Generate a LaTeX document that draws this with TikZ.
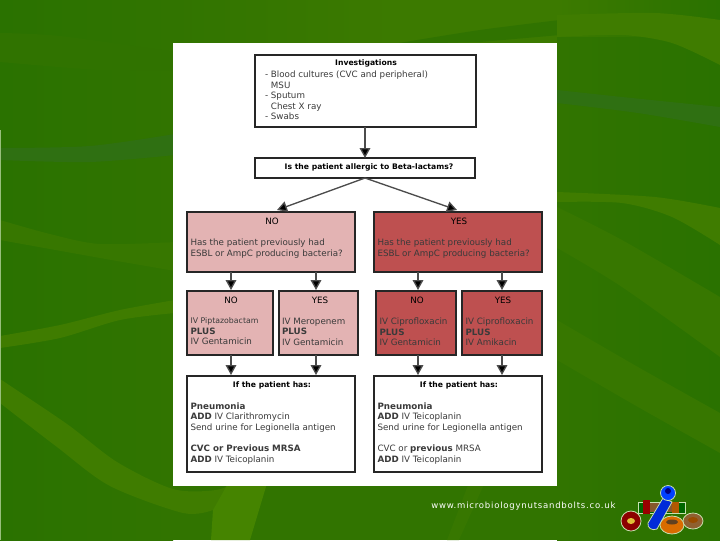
\documentclass[tikz,border=0pt]{standalone}
\usepackage{fontspec}
\setmainfont{DejaVu Sans}
\newfontfamily\urlfont[LetterSpace=9]{DejaVu Sans}
\usetikzlibrary{arrows.meta}
\definecolor{bgedge}{HTML}{2A7200}
\definecolor{bgmid}{HTML}{317400}
\definecolor{bandA}{HTML}{3F7C00}
\definecolor{bandB}{HTML}{377700}
\definecolor{bandC}{HTML}{307300}
\definecolor{bandF}{HTML}{2F7012}
\definecolor{bandV}{HTML}{458400}
\definecolor{topband}{HTML}{3C7A00}
\definecolor{pinkbox}{HTML}{E3B3B3}
\definecolor{redbox}{HTML}{BE5050}
\definecolor{softtext}{HTML}{3A3A3A}
\definecolor{halo}{HTML}{C8E0B0}
\tikzset{
  box/.style={draw=black!85,line width=0.9pt,inner sep=0pt,outer sep=0pt},
  arrowline/.style={draw=black!70,line width=1pt,-{Triangle[length=7.5pt,width=8pt,fill=black]}},
  body/.style={inner sep=0pt,outer sep=0pt,align=left,anchor=north west,text=softtext,font=\fontsize{6.55}{7.85}\selectfont},
  head/.style={inner sep=0pt,outer sep=0pt,align=center,anchor=center,text=black,font=\fontsize{6.55}{7.85}\selectfont},
  boldhead/.style={head,font=\fontsize{5.75}{7}\selectfont\bfseries},
  logopart/.style={draw=halo,line width=0.6pt}
}
\newcommand{\rbox}[6]{%
  \pgfmathsetmacro{\rw}{(#4-#2)*0.75}\pgfmathsetmacro{\rh}{(#5-#3)*0.75}%
  \node[box,#6,minimum width=\rw pt,minimum height=\rh pt] (#1) at ({(#2+#4)/2},{(#3+#5)/2}) {};}
\begin{document}
\begin{tikzpicture}[x=0.75pt,y=-0.75pt]
\useasboundingbox (0,0) rectangle (720,540);
\fill[bgmid] (0,0) rectangle (720,540);
\fill[left color=bgedge,right color=bgmid] (0,0) rectangle (173,540);
\fill[left color=bgmid,right color=bgedge] (557,0) rectangle (720,540);
% background bands
\fill[left color=bgmid,right color=topband] (173,0) rectangle (400,44);
\fill[topband] (400,0) rectangle (557,44);
\fill[left color=topband,right color=bgedge] (557,0) rectangle (720,36);
\fill[bandC] plot[smooth] coordinates {(393,44) (480,30) (560,20)} -- (560,35) -- (480,42) -- cycle;
\fill[bandC] plot[smooth] coordinates {(0,33) (60,36) (175,52)} -- plot[smooth] coordinates {(175,70) (100,70) (0,62)} -- cycle;
\fill[bandF] plot[smooth] coordinates {(0,148) (90,146) (175,134)} -- plot[smooth] coordinates {(175,155) (90,162) (0,160)} -- cycle;
\fill[bandB] plot[smooth] coordinates {(0,220) (50,234) (100,244) (175,242)} -- plot[smooth] coordinates {(175,271) (100,258) (0,240)} -- cycle;
\fill[bandA] plot[smooth] coordinates {(0,336) (60,325) (120,310) (175,300)} -- plot[smooth] coordinates {(175,313) (120,320) (60,338) (0,348)} -- cycle;
\fill[bandA] plot[smooth] coordinates {(0,379) (67,424) (117,462) (173,489) (216,490) (240,480)} -- (240,500) -- plot[smooth] coordinates {(213,510) (183,513) (110,486) (57,447) (0,403)} -- cycle;
\fill[bandV] (230,480) -- (268,480) -- (250,540) -- (211,540) -- (213,510) -- cycle;
\fill[bandB] (470,480) -- (486,480) -- (459,540) -- (447,540) -- cycle;
\fill[bandA] plot[smooth] coordinates {(557,15) (655,13) (720,20)} -- plot[smooth] coordinates {(720,65) (672,43) (622,35) (557,37)} -- cycle;
\fill[bandF] plot[smooth] coordinates {(557,90) (622,97) (720,107)} -- plot[smooth] coordinates {(720,127) (638,113) (557,103)} -- cycle;
\fill[bandA] plot[smooth] coordinates {(557,192) (655,197) (720,208)} -- plot[smooth] coordinates {(720,245) (672,217) (622,203) (557,202)} -- cycle;
\fill[bandB] plot[smooth] coordinates {(557,207) (622,240) (720,297)} -- plot[smooth] coordinates {(720,357) (622,287) (557,248)} -- cycle;
\fill[bandB] plot[smooth] coordinates {(557,320) (638,367) (720,413)} -- plot[smooth] coordinates {(720,453) (638,407) (557,360)} -- cycle;
\fill[halo!70!bgedge] (0,130) rectangle (1,540);
% sheet
\node[fill=white,minimum width=288pt,minimum height=332.25pt,inner sep=0pt,outer sep=0pt] (sheet) at (365,264.5) {};
% boxes
\rbox{inv}{255}{55}{476}{127}{fill=white}
\rbox{allergic}{255}{158}{475}{178}{fill=white}
\rbox{no}{187}{212}{355}{272}{fill=pinkbox}
\rbox{yes}{374}{212}{542}{272}{fill=redbox}
\rbox{noa}{187}{291}{273}{355}{fill=pinkbox}
\rbox{nob}{279}{291}{358}{355}{fill=pinkbox}
\rbox{yesa}{376}{291}{456}{355}{fill=redbox}
\rbox{yesb}{462}{291}{542}{355}{fill=redbox}
\rbox{resa}{187}{376}{355}{472}{fill=white}
\rbox{resb}{374}{376}{542}{472}{fill=white}
% anchors for connectors
\coordinate (noin) at (277,210);
\coordinate (yesin) at (457,210);
\coordinate (a1) at (231,290);
\coordinate (a2) at (316,290);
\coordinate (a3) at (418,290);
\coordinate (a4) at (502,290);
\coordinate (b1) at (231,375);
\coordinate (b2) at (316,375);
\coordinate (b3) at (418,375);
\coordinate (b4) at (502,375);
% connectors
\draw[arrowline] (inv.south -| allergic.north) -- (allergic.north);
\draw[arrowline] (allergic.south) -- (noin);
\draw[arrowline] (allergic.south) -- (yesin);
\draw[arrowline] (no.south -| a1) -- (a1);
\draw[arrowline] (no.south -| a2) -- (a2);
\draw[arrowline] (yes.south -| a3) -- (a3);
\draw[arrowline] (yes.south -| a4) -- (a4);
\draw[arrowline] (noa.south -| b1) -- (b1);
\draw[arrowline] (nob.south -| b2) -- (b2);
\draw[arrowline] (yesa.south -| b3) -- (b3);
\draw[arrowline] (yesb.south -| b4) -- (b4);
% texts
\node[boldhead] (t1) at (366,63.5) {Investigations};
\node[body] (t2) at (265,71) {- Blood cultures (CVC and peripheral)\\
\phantom{- }MSU\\- Sputum\\\phantom{- }Chest X ray\\- Swabs};
\node[boldhead] (t3) at (369,167) {Is the patient allergic to Beta-lactams?};
\node[head] (t4) at (272,221) {NO};
\node[head] (t5) at (459,221) {YES};
\node[body] (t6) at (190.5,239) {Has the patient previously had\\ESBL or AmpC producing bacteria?};
\node[body] (t7) at (377.5,239) {Has the patient previously had\\ESBL or AmpC producing bacteria?};
\node[head] (t8) at (231,300.5) {NO};
\node[head] (t9) at (320,300.5) {YES};
\node[head] (t10) at (417,300.5) {NO};
\node[head] (t11) at (503,300.5) {YES};
\node[body] (t12) at (190.5,318) {{\fontsize{5.85}{7.85}\selectfont IV Piptazobactam}\\\textbf{PLUS}\\IV Gentamicin};
\node[body] (t13) at (282,318) {IV Meropenem\\\textbf{PLUS}\\IV Gentamicin};
\node[body] (t14) at (379.5,318) {IV Ciprofloxacin\\\textbf{PLUS}\\IV Gentamicin};
\node[body] (t15) at (465.5,318) {IV Ciprofloxacin\\\textbf{PLUS}\\IV Amikacin};
\node[boldhead] (t16) at (272,385) {If the patient has:};
\node[boldhead] (t17) at (459,385) {If the patient has:};
\node[body] (t18) at (190.5,402.5) {\textbf{Pneumonia}\\\textbf{ADD} IV Clarithromycin\\Send urine for Legionella antigen};
\node[body] (t19) at (377.5,402.5) {\textbf{Pneumonia}\\\textbf{ADD} IV Teicoplanin\\Send urine for Legionella antigen};
\node[body] (t20) at (190.5,445) {\textbf{CVC or Previous MRSA}\\\textbf{ADD} IV Teicoplanin};
\node[body] (t21) at (377.5,445) {CVC or \textbf{previous} MRSA\\\textbf{ADD} IV Teicoplanin};
% footer
\node[inner sep=0pt,anchor=west,text=white,font=\urlfont\fontsize{6.4}{8}\selectfont] (url) at (431,506.5) {www.microbiologynutsandbolts.co.uk};
% logo
\fill[logopart,fill=green!40!black] (638,502) rectangle (685,513);
\fill[brown!70!black] (650,503) rectangle (672,512);
\fill[red!60!black] (643,500) rectangle (650,514);
\fill[orange!70!black] (672,502) rectangle (679,513);
\fill[logopart,fill=red!55!black] (631,521) circle[radius=10];
\fill[yellow!50!brown] (631,521) ellipse[x radius=4,y radius=3];
\fill[logopart,fill=orange!85!black] (672,525) ellipse[x radius=12,y radius=9];
\fill[brown!50!black] (672,522) ellipse[x radius=6,y radius=2.5];
\fill[logopart,fill=brown!75!black] (693,521) ellipse[x radius=10,y radius=8];
\fill[orange!60!black] (693,520) ellipse[x radius=5,y radius=3];
\fill[logopart,fill=blue!80!cyan!85!black] (648,523) -- (663,498) -- (672,502) -- (657,529) .. controls (652,531) and (647,528) .. (648,523) -- cycle;
\fill[logopart,fill=blue!75!cyan] (668,493) circle[radius=7.5];
\fill[blue!50!black] (668,491) circle[radius=3];
\end{tikzpicture}
\end{document}
